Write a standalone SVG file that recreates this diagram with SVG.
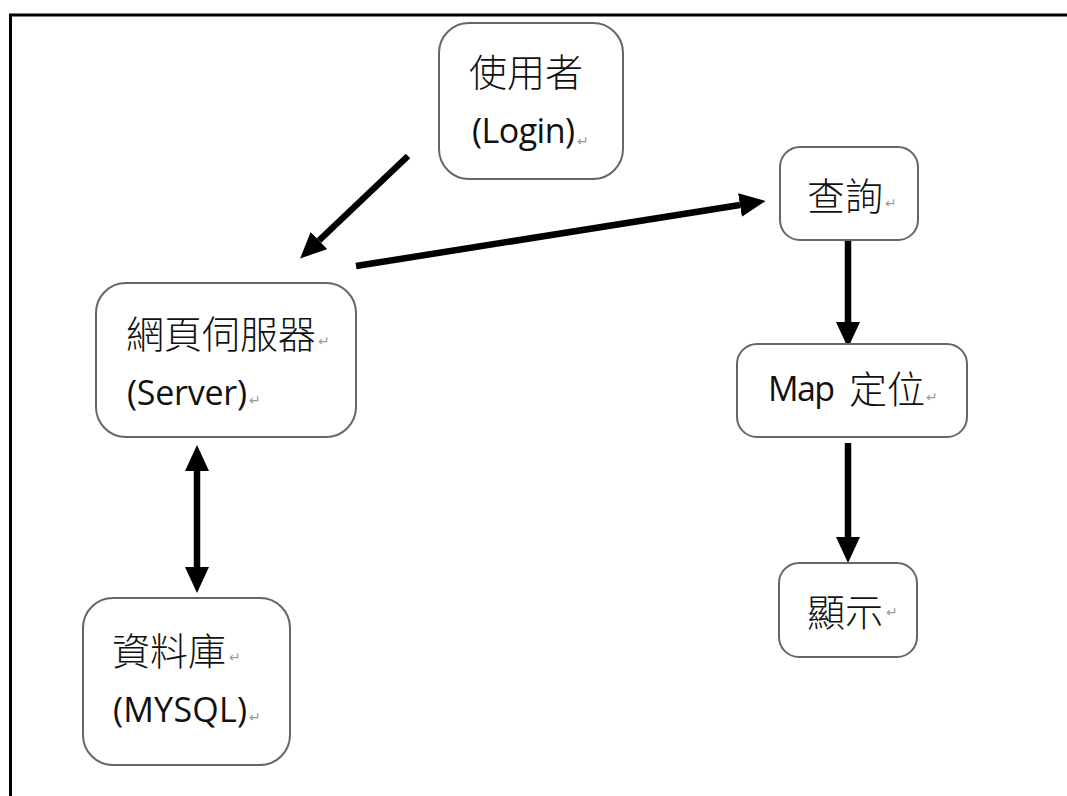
<svg xmlns="http://www.w3.org/2000/svg" width="1067" height="796" viewBox="0 0 1067 796">
<style>
.box{fill:#fff;stroke:#666;stroke-width:2}
.cjk{font-family:"Noto Sans CJK TC","Noto Sans CJK SC",sans-serif;font-size:38px;fill:#111;font-weight:300}
.lat{font-family:"Open Sans","Liberation Sans",sans-serif;font-size:34px;fill:#111}
.pm{font-family:"DejaVu Sans",sans-serif;font-size:14px;fill:#999}
.arr{stroke:#000;stroke-width:6.5;fill:none;marker-end:url(#ah)}
</style>
<defs>
<marker id="ah" markerUnits="userSpaceOnUse" markerWidth="26" markerHeight="24" refX="0" refY="12" orient="auto-start-reverse" viewBox="0 0 26 24">
<path d="M0,0 L26,12 L0,24 z" fill="#000"/>
</marker>
</defs>
<rect width="1067" height="796" fill="#fff"/>
<path d="M10.5,796 V15 H1067" fill="none" stroke="#000" stroke-width="3"/>

<g id="connectors">
<line class="arr" x1="408" y1="156" x2="319" y2="240.5"/>
<line class="arr" x1="356" y1="266" x2="740" y2="205"/>
<line class="arr" x1="848" y1="240" x2="848" y2="322"/>
<line class="arr" x1="848" y1="443" x2="848" y2="537"/>
<line class="arr" x1="197" y1="471" x2="197" y2="567" style="marker-start:url(#ah)"/>
</g>

<g id="user">
<rect class="box" x="439" y="23" width="184" height="156" rx="30"/>
<text class="cjk" x="469" y="86">使用者</text>
<text class="lat" x="472" y="143" textLength="103" lengthAdjust="spacing">(Login)</text>
<text class="pm" x="577" y="146">↵</text>
</g>

<g id="server">
<rect class="box" x="96" y="283" width="260" height="154" rx="30"/>
<text class="cjk" x="126" y="348">網頁伺服器</text>
<text class="pm" x="318" y="346">↵</text>
<text class="lat" x="127" y="405" textLength="120" lengthAdjust="spacing">(Server)</text>
<text class="pm" x="249" y="405">↵</text>
</g>

<g id="query">
<rect class="box" x="780" y="147" width="138" height="93" rx="20"/>
<text class="cjk" x="807" y="210">查詢</text>
<text class="pm" x="885" y="208">↵</text>
</g>

<g id="map">
<rect class="box" x="737" y="344" width="230" height="93" rx="20"/>
<text class="lat" x="768" y="401" textLength="67" lengthAdjust="spacing">Map</text>
<text class="cjk" x="849" y="403">定位</text>
<text class="pm" x="926" y="402">↵</text>
</g>

<g id="display">
<rect class="box" x="779" y="563" width="138" height="94" rx="20"/>
<text class="cjk" x="807" y="626">顯示</text>
<text class="pm" x="886" y="617">↵</text>
</g>

<g id="database">
<rect class="box" x="83" y="598" width="207" height="167" rx="30"/>
<text class="cjk" x="112" y="665">資料庫</text>
<text class="pm" x="229" y="662">↵</text>
<text class="lat" x="113" y="722" textLength="134" lengthAdjust="spacing">(MYSQL)</text>
<text class="pm" x="249" y="722">↵</text>
</g>
</svg>
